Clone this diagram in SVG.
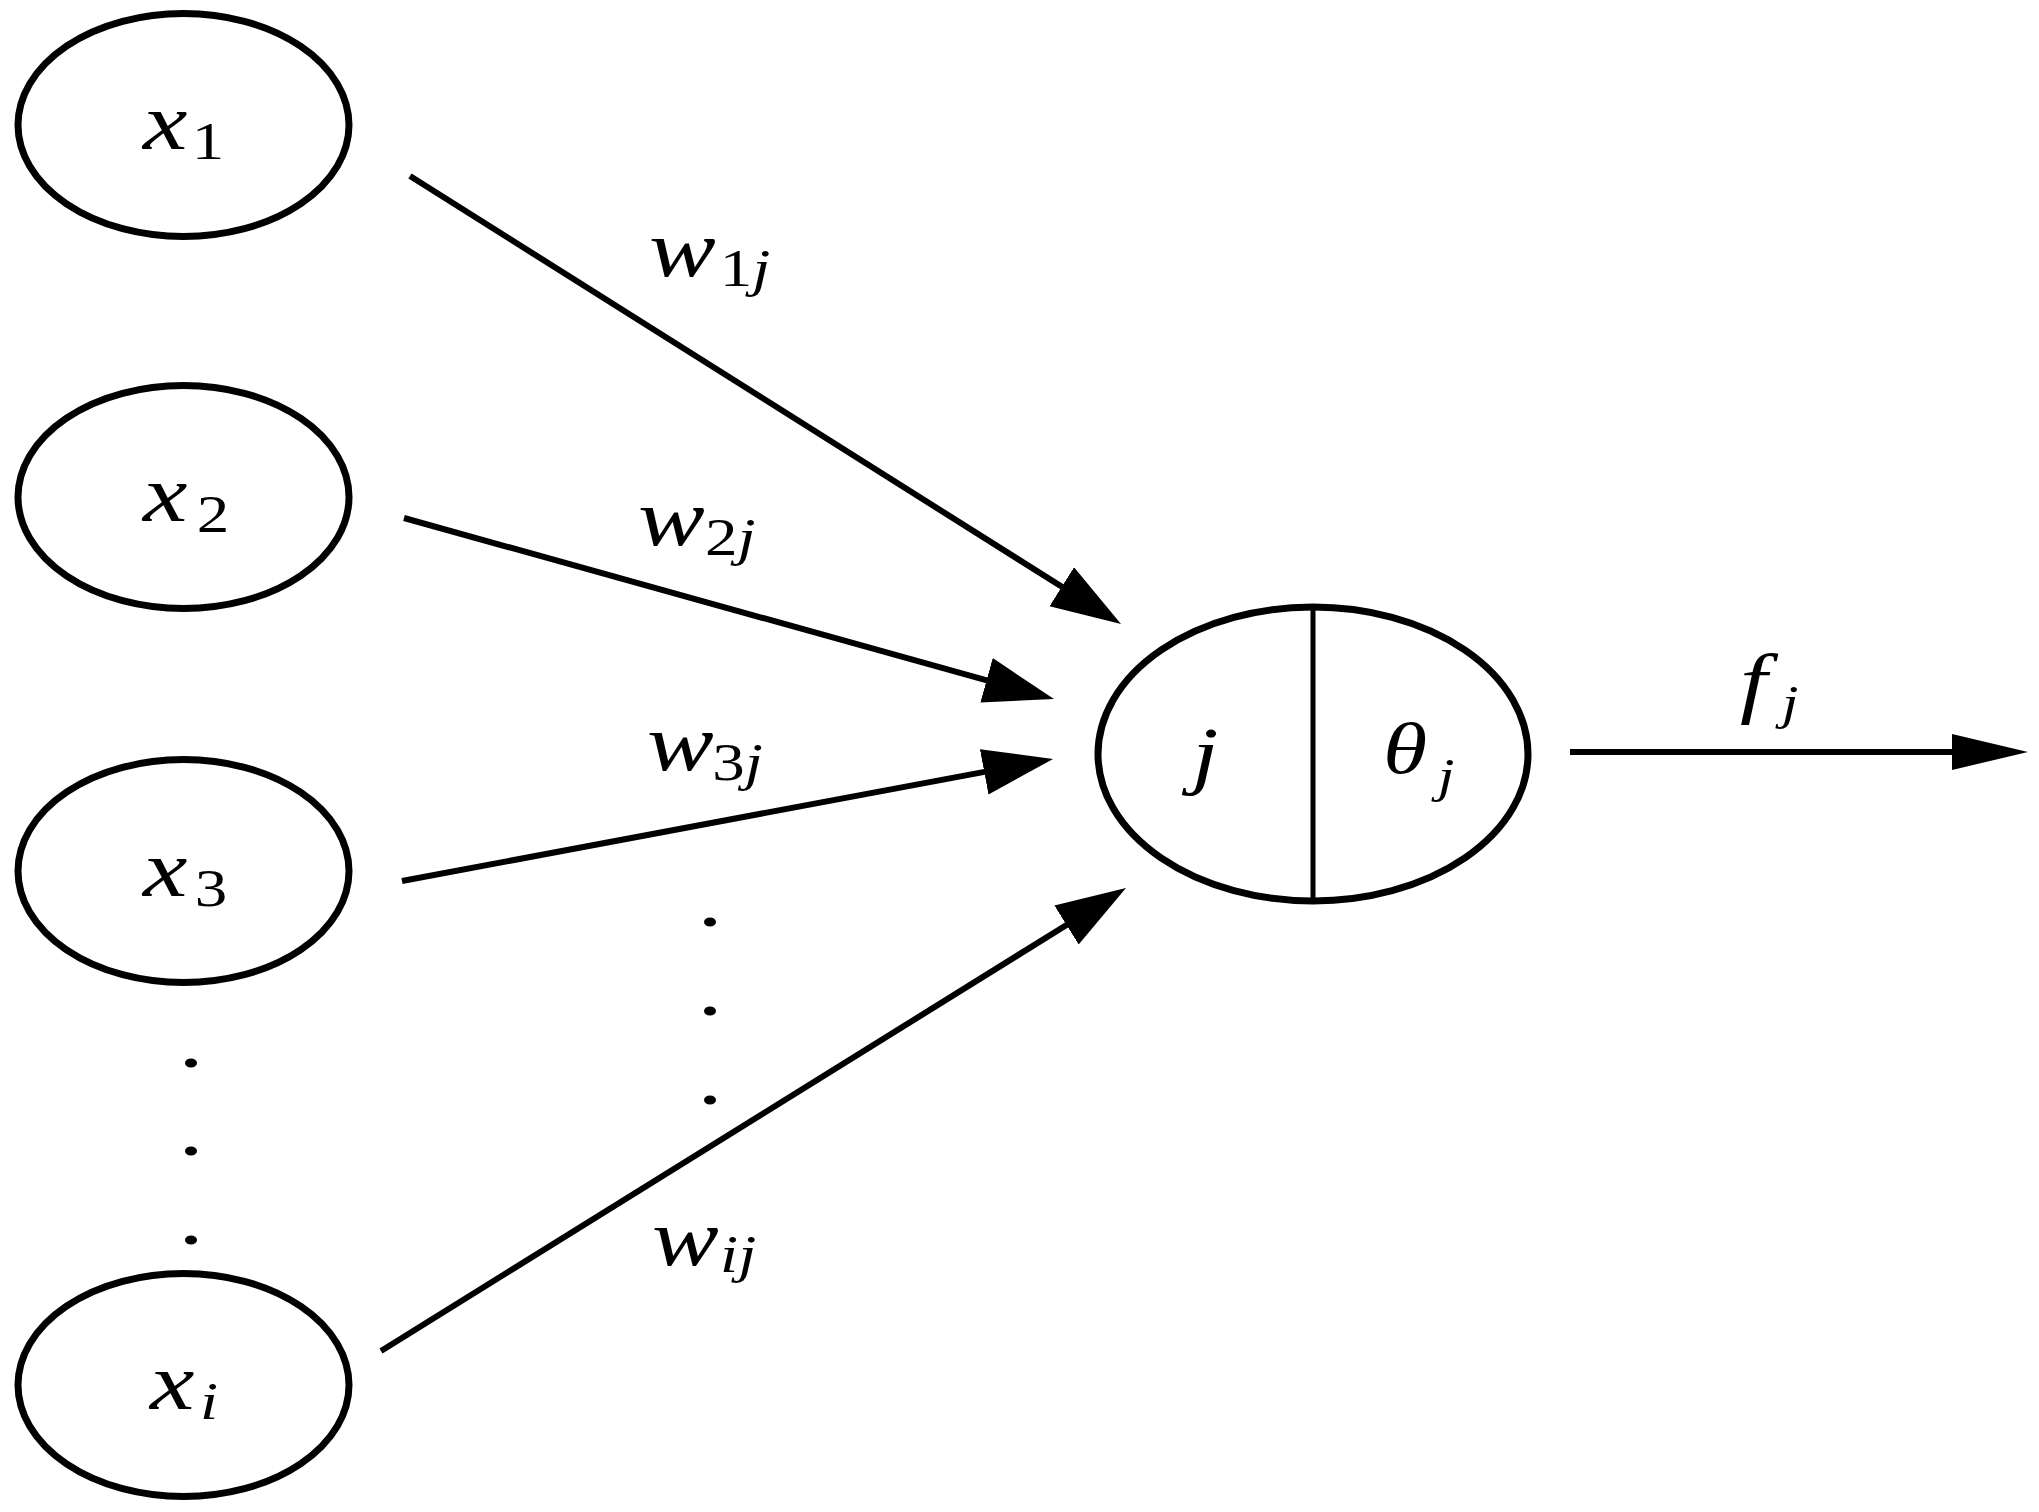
<svg xmlns="http://www.w3.org/2000/svg" width="2039" height="1512" viewBox="0 0 2039 1512">
<style>
.node{fill:#fff;stroke:#000;stroke-width:7}
.div{stroke:#000;stroke-width:5}
.conn{stroke:#000;stroke-width:6;fill:none}
.lbl{font-family:"Liberation Serif","Times New Roman",serif;font-style:italic;fill:#000;font-size:80px}
.sub{font-size:52px}
.rm{font-style:normal}
.dot{fill:#000}
</style>
<defs>
<marker id="ah" markerUnits="userSpaceOnUse" markerWidth="74" markerHeight="50" refX="18" refY="23" orient="auto">
<path d="M0,0 L70,23 L0,46 z" fill="#000"/>
</marker>
<marker id="ah2" markerUnits="userSpaceOnUse" markerWidth="80" markerHeight="40" refX="16" refY="18" orient="auto">
<path d="M0,0 L76,18 L0,36 z" fill="#000"/>
</marker>
</defs>
<rect width="2039" height="1512" fill="#fff"/>
<g id="connectors">
<line class="conn" x1="410" y1="176" x2="1077" y2="596.3" marker-end="url(#ah)"/>
<line class="conn" x1="404" y1="518" x2="1003.9" y2="685.1" marker-end="url(#ah)"/>
<line class="conn" x1="402" y1="881" x2="1001.9" y2="768.6" marker-end="url(#ah)"/>
<line class="conn" x1="381" y1="1351" x2="1081.8" y2="915.5" marker-end="url(#ah)"/>
<line class="conn" x1="1570" y1="752" x2="1968" y2="752" marker-end="url(#ah2)"/>
</g>
<g id="node-x1">
<ellipse class="node" cx="183.5" cy="125" rx="165.5" ry="111.5"/>
<text class="lbl" transform="translate(143,149) scale(1.25,1)">x<tspan class="sub rm" x="39.1" y="10">1</tspan></text>
</g>
<g id="node-x2">
<ellipse class="node" cx="183.5" cy="497" rx="165.5" ry="111.5"/>
<text class="lbl" transform="translate(143,521) scale(1.25,1)">x<tspan class="sub rm" x="43" y="11">2</tspan></text>
</g>
<g id="node-x3">
<ellipse class="node" cx="183.5" cy="871" rx="165.5" ry="111.5"/>
<text class="lbl" transform="translate(143,896) scale(1.25,1)">x<tspan class="sub rm" x="41.5" y="10">3</tspan></text>
</g>
<g id="node-xi">
<ellipse class="node" cx="183.5" cy="1385" rx="165.5" ry="111.5"/>
<text class="lbl" transform="translate(150,1409) scale(1.25,1)">x<tspan class="sub" x="40" y="10">i</tspan></text>
</g>
<g id="node-j">
<ellipse class="node" cx="1313" cy="754" rx="215" ry="147"/>
<line class="div" x1="1313" y1="607" x2="1313" y2="901"/>
<text class="lbl" style="font-size:76px" transform="translate(1192,780) scale(1.25,1)">j</text>
<text class="lbl" style="font-size:72px" transform="translate(1383,773) scale(1.25,1)">θ<tspan class="sub" style="font-size:48px" x="43.8" y="19">j</tspan></text>
</g>
<g id="weights">
<text class="lbl" transform="translate(649,276) scale(1.25,1)">w<tspan class="sub rm" x="56.7" y="10">1</tspan><tspan class="sub">j</tspan></text>
<text class="lbl" transform="translate(638,545) scale(1.25,1)">w<tspan class="sub rm" x="53.6" y="10">2</tspan><tspan class="sub">j</tspan></text>
<text class="lbl" transform="translate(647,770) scale(1.25,1)">w<tspan class="sub rm" x="52.2" y="10">3</tspan><tspan class="sub">j</tspan></text>
<text class="lbl" transform="translate(652,1265) scale(1.25,1)">w<tspan class="sub" x="54.5" y="7">ij</tspan></text>
<text class="lbl" style="font-size:78px" transform="translate(1740,708) scale(1.25,1)">f<tspan class="sub" style="font-size:48px" x="33.4" y="11">j</tspan></text>
</g>
<g id="ellipsis-dots">
<ellipse class="dot" cx="191" cy="1063" rx="6" ry="4.5"/>
<ellipse class="dot" cx="191" cy="1151" rx="6" ry="4.5"/>
<ellipse class="dot" cx="191" cy="1240" rx="6" ry="4.5"/>
<ellipse class="dot" cx="710" cy="922" rx="6" ry="4.5"/>
<ellipse class="dot" cx="710" cy="1011" rx="6" ry="4.5"/>
<ellipse class="dot" cx="710" cy="1100" rx="6" ry="4.5"/>
</g>
</svg>
